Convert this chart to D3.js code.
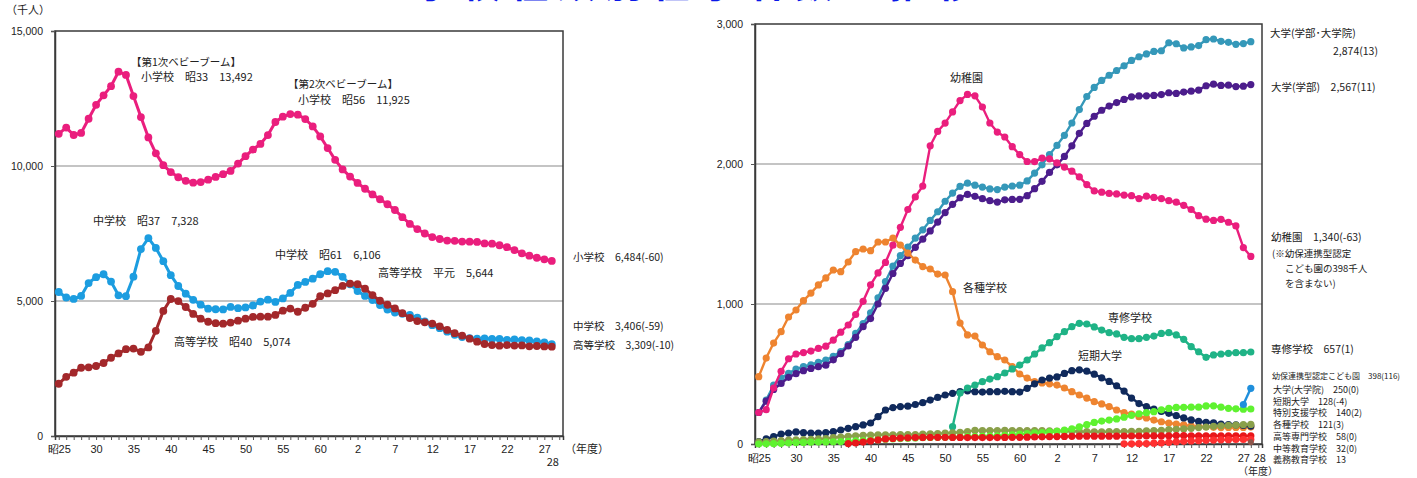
<!DOCTYPE html>
<html>
<head>
<meta charset="utf-8">
<script src="https://cdn.jsdelivr.net/npm/d3@7"></script>
<style>
  body { margin: 0; background: #fff; }
  svg { display: block; font-family: "Noto Sans CJK JP", "Noto Sans", sans-serif; }
  .note { fill: #222; }
  .tick text { fill: #222; }
</style>
</head>
<body>
<div class="chartBox"></div>
<script>
// years 昭25 (1950) .. 平28 (2016), plus one empty slot on the axis
var years = d3.range(1950, 2017);
var axisYears = d3.range(1950, 2018);
var tickYears = [1950, 1955, 1960, 1965, 1970, 1975, 1980, 1985, 1990, 1995, 2000, 2005, 2010, 2015];
var tickLabels = ['昭25', '30', '35', '40', '45', '50', '55', '60', '2', '7', '12', '17', '22', '27'];

// left chart (千人)
var elementary = [11191, 11423, 11148, 11225, 11750, 12267, 12616, 12956, 13492, 13375,
  12591, 11811, 11057, 10471, 10031, 9775, 9584, 9452, 9383, 9403,
  9493, 9596, 9696, 9816, 10089, 10365, 10610, 10819, 11147, 11630,
  11827, 11925, 11902, 11739, 11465, 11095, 10665, 10227, 9873, 9607,
  9373, 9157, 8947, 8769, 8583, 8370, 8106, 7855, 7664, 7500,
  7366, 7297, 7239, 7227, 7201, 7197, 7188, 7133, 7122, 7064,
  6993, 6887, 6765, 6677, 6601, 6544, 6484];
var juniorHigh = [5333, 5129, 5076, 5187, 5664, 5884, 5990, 5718, 5210, 5180,
  5900, 6925, 7328, 6964, 6476, 5957, 5556, 5271, 5044, 4865,
  4717, 4694, 4688, 4780, 4735, 4762, 4833, 4978, 5048, 4967,
  5094, 5300, 5594, 5707, 5828, 5990, 6106, 6081, 5896, 5619,
  5369, 5188, 5037, 4850, 4681, 4570, 4527, 4481, 4381, 4244,
  4104, 3992, 3863, 3748, 3664, 3627, 3602, 3615, 3592, 3600,
  3559, 3574, 3553, 3537, 3504, 3465, 3406];
var highSchool = [1935, 2193, 2344, 2528, 2545, 2592, 2703, 2898, 3057, 3216,
  3239, 3119, 3282, 3897, 4634, 5074, 4997, 4777, 4521, 4345,
  4232, 4178, 4162, 4201, 4272, 4345, 4410, 4420, 4420, 4485,
  4640, 4720, 4601, 4750, 4897, 5178, 5280, 5400, 5560, 5644,
  5623, 5455, 5218, 5010, 4862, 4725, 4548, 4371, 4258, 4212,
  4165, 4062, 3929, 3810, 3719, 3605, 3494, 3407, 3367, 3347,
  3369, 3349, 3356, 3320, 3334, 3319, 3309];

// right chart (千人)
var univTotal = [225, 314, 420, 470, 505, 535, 552, 566, 584, 600,
  626, 660, 710, 790, 860, 937, 1044, 1160, 1270, 1345,
  1407, 1470, 1530, 1597, 1659, 1734, 1792, 1840, 1863, 1849,
  1835, 1822, 1817, 1835, 1843, 1849, 1879, 1935, 1994, 2067,
  2133, 2205, 2293, 2389, 2482, 2547, 2597, 2634, 2668, 2701,
  2740, 2766, 2786, 2804, 2809, 2866, 2859, 2829, 2836, 2846,
  2888, 2893, 2876, 2869, 2855, 2860, 2874];
var univUndergrad = [225, 306, 390, 432, 476, 502, 524, 540, 552, 563,
  601, 645, 700, 762, 838, 896, 1000, 1112, 1218, 1290,
  1345, 1405, 1463, 1522, 1585, 1653, 1712, 1759, 1783, 1769,
  1752, 1738, 1728, 1744, 1747, 1748, 1774, 1824, 1876, 1940,
  1994, 2054, 2130, 2219, 2290, 2341, 2384, 2414, 2439, 2461,
  2479, 2486, 2487, 2490, 2496, 2509, 2504, 2514, 2520, 2528,
  2559, 2570, 2561, 2563, 2553, 2556, 2567];
var kinder = [225, 245, 400, 519, 609, 643, 653, 664, 683, 699,
  742, 799, 850, 925, 1019, 1137, 1222, 1297, 1420, 1548,
  1675, 1765, 1842, 2130, 2233, 2292, 2372, 2453, 2497, 2487,
  2407, 2293, 2228, 2193, 2124, 2067, 2018, 2017, 2042, 2037,
  2008, 1978, 1949, 1908, 1853, 1808, 1799, 1790, 1786, 1778,
  1774, 1753, 1770, 1761, 1753, 1738, 1727, 1705, 1675, 1631,
  1606, 1597, 1605, 1584, 1558, 1403, 1340];
var miscSchool = [481, 614, 721, 802, 907, 957, 1024, 1078, 1136, 1186,
  1243, 1231, 1300, 1374, 1393, 1381, 1443, 1443, 1471, 1421,
  1364, 1314, 1267, 1250, 1214, 1207, 1088, 864, 779, 771,
  707, 659, 624, 600, 552, 500, 471, 445, 436, 430,
  421, 400, 374, 350, 328, 302, 286, 267, 243, 224,
  214, 195, 186, 171, 159, 150, 143, 136, 129, 124,
  124, 119, 117, 118, 118, 118, 121];
var juniorCollege = [17, 36, 52, 71, 78, 86, 81, 78, 78, 81,
  88, 100, 112, 124, 136, 150, 195, 243, 260, 267,
  270, 282, 295, 314, 333, 350, 362, 374, 380, 374,
  371, 374, 374, 376, 374, 371, 398, 430, 457, 470,
  479, 504, 524, 530, 520, 499, 473, 447, 416, 378,
  328, 289, 267, 250, 233, 219, 202, 186, 172, 161,
  155, 151, 142, 138, 137, 133, 128];
var vocational = [null, null, null, null, null, null, null, null, null, null,
  null, null, null, null, null, null, null, null, null, null,
  null, null, null, null, null, null, 124, 364, 400, 421,
  445, 464, 481, 507, 536, 564, 600, 643, 686, 724,
  767, 802, 838, 862, 857, 836, 814, 795, 786, 762,
  752, 752, 762, 771, 790, 795, 779, 748, 695, 659,
  619, 636, 643, 648, 652, 652, 657];
var graduate = [0, 1, 2, 5, 7, 10, 11, 13, 14, 15,
  16, 17, 19, 22, 25, 28, 31, 34, 37, 39,
  41, 43, 45, 47, 48, 48, 48, 50, 52, 53,
  54, 56, 58, 61, 65, 70, 74, 79, 81, 86,
  90, 99, 109, 122, 138, 154, 164, 171, 179, 191,
  205, 216, 224, 231, 244, 254, 261, 262, 263, 263,
  272, 273, 263, 255, 251, 249, 250];
var specialNeeds = [15, 18, 21, 24, 27, 30, 32, 34, 36, 38,
  46, 50, 55, 59, 62, 64, 66, 66, 66, 67,
  67, 68, 70, 73, 75, 77, 80, 84, 88, 97,
  95, 96, 96, 97, 96, 96, 96, 96, 95, 94,
  93, 92, 91, 89, 88, 87, 87, 88, 89, 89,
  90, 91, 94, 96, 98, 102, 105, 108, 112, 117,
  121, 126, 130, 133, 135, 138, 140];
var techCollege = [null, null, null, null, null, null, null, null, null, null,
  null, null, 3, 7, 14, 22, 29, 36, 40, 43,
  44, 46, 47, 48, 48, 48, 47, 47, 46, 46,
  46, 46, 46, 47, 48, 48, 49, 50, 51, 52,
  53, 54, 55, 56, 56, 56, 56, 56, 56, 57,
  57, 57, 58, 58, 58, 59, 60, 60, 59, 59,
  59, 59, 58, 58, 58, 58, 58];
var secondary = [null, null, null, null, null, null, null, null, null, null,
  null, null, null, null, null, null, null, null, null, null,
  null, null, null, null, null, null, null, null, null, null,
  null, null, null, null, null, null, null, null, null, null,
  null, null, null, null, null, null, null, null, null, 1,
  1, 2, 3, 6, 8, 12, 16, 19, 22, 24,
  26, 28, 30, 31, 32, 32, 32];
var certifiedCenter = [null, null, null, null, null, null, null, null, null, null,
  null, null, null, null, null, null, null, null, null, null,
  null, null, null, null, null, null, null, null, null, null,
  null, null, null, null, null, null, null, null, null, null,
  null, null, null, null, null, null, null, null, null, null,
  null, null, null, null, null, null, null, null, null, null,
  null, null, null, null, null, 282, 398];
var compulsory = [null, null, null, null, null, null, null, null, null, null,
  null, null, null, null, null, null, null, null, null, null,
  null, null, null, null, null, null, null, null, null, null,
  null, null, null, null, null, null, null, null, null, null,
  null, null, null, null, null, null, null, null, null, null,
  null, null, null, null, null, null, null, null, null, null,
  null, null, null, null, null, null, 13];


var w = 1417, h = 478;

var svg = d3.select('div.chartBox')
  .append('svg')
  .attr('width', w)
  .attr('height', h);

// title, cut off by the top edge in the original
svg.append('text')
  .attr('x', 415)
  .attr('y', -3)
  .attr('font-size', 38)
  .attr('font-weight', 'bold')
  .attr('fill', '#0a18e8')
  .attr('textLength', 560)
  .attr('lengthAdjust', 'spacing')
  .text('学校種類別在学者数の推移');

function note(x, y, str, size, anchor) {
  svg.append('text')
    .attr('class', 'note')
    .attr('x', x)
    .attr('y', y)
    .attr('font-size', size || 11)
    .attr('text-anchor', anchor || 'start')
    .text(str);
}

function makePanel(left, right, top, bottom, yMax, yTicks, labelPad) {
  var x = d3.scalePoint().domain(axisYears).range([left, right]).padding(0.5);
  var y = d3.scaleLinear().domain([0, yMax]).range([bottom, top]);
  var g = svg.append('g');

  // grid lines
  g.selectAll('line.grid')
    .data(yTicks.slice(1, -1))
    .enter()
    .append('line')
    .attr('x1', left).attr('x2', right)
    .attr('y1', function(d) { return y(d); })
    .attr('y2', function(d) { return y(d); })
    .attr('stroke', '#8a8a8a')
    .attr('stroke-width', 1.2);

  // frame
  g.append('rect')
    .attr('x', left).attr('y', top)
    .attr('width', right - left).attr('height', bottom - top)
    .attr('fill', 'none')
    .attr('stroke', '#3a3a3a')
    .attr('stroke-width', 1.5);

  var yAxis = g.append('g')
    .attr('transform', 'translate(' + left + ',0)')
    .call(d3.axisLeft(y).tickValues(yTicks).tickSize(4).tickPadding(8).tickFormat(d3.format(',')));
  yAxis.selectAll('text').attr('font-size', 10.5);

  var xAxis = g.append('g')
    .attr('transform', 'translate(0,' + bottom + ')')
    .call(d3.axisBottom(x).tickValues(axisYears).tickSize(4).tickPadding(labelPad)
      .tickFormat(function(d) {
        var k = tickYears.indexOf(d);
        return k < 0 ? '' : tickLabels[k];
      }));
  xAxis.selectAll('text').attr('font-size', 11);

  [yAxis, xAxis].forEach(function(a) {
    a.select('.domain').attr('stroke', '#3a3a3a').attr('stroke-width', 1.5);
    a.selectAll('.tick line').attr('stroke', '#555');
  });

  return { x: x, y: y, g: g };
}

function drawSeries(p, values, color, r, sw) {
  var pts = years.map(function(yr, i) { return { yr: yr, v: values[i] }; })
    .filter(function(d) { return d.v != null; });

  var line = d3.line()
    .x(function(d) { return p.x(d.yr); })
    .y(function(d) { return p.y(d.v); });

  p.g.append('path')
    .datum(pts)
    .attr('fill', 'none')
    .attr('stroke', color)
    .attr('stroke-width', sw)
    .attr('d', line);

  p.g.selectAll(null)
    .data(pts)
    .enter()
    .append('circle')
    .attr('cx', function(d) { return p.x(d.yr); })
    .attr('cy', function(d) { return p.y(d.v); })
    .attr('r', r)
    .attr('fill', color);
}

// ---- left chart
var L = makePanel(55, 563, 31, 436, 15000, [0, 5000, 10000, 15000], 5);

drawSeries(L, elementary, '#ea1e7d', 3.9, 3);
drawSeries(L, juniorHigh, '#1c9de0', 3.9, 3);
drawSeries(L, highSchool, '#a3282b', 3.9, 3);

note(6, 14, '（千人）', 11);
note(L.x(2016) + 1, 466, '28', 11, 'middle');
note(565, 453, '（年度）', 11);

note(131, 66, '【第1次ベビーブーム】', 10.5);
note(141, 81, '小学校　昭33　13,492', 11);
note(288, 88, '【第2次ベビーブーム】', 10.5);
note(298, 104, '小学校　昭56　11,925', 11);
note(93, 225, '中学校　昭37　7,328', 11);
note(275, 259, '中学校　昭61　6,106', 11);
note(378, 277, '高等学校　平元　5,644', 11);
note(174, 346, '高等学校　昭40　5,074', 11);

note(573, 261, '小学校　6,484(-60)', 10.5);
note(573, 330, '中学校　3,406(-59)', 10.5);
note(573, 349, '高等学校　3,309(-10)', 10.5);

// ---- right chart
var R = makePanel(755, 1262, 24, 444, 3000, [0, 1000, 2000, 3000], 6);

drawSeries(R, univTotal, '#3598b9', 3.6, 2.4);
drawSeries(R, univUndergrad, '#4c1d8c', 3.6, 2.4);
drawSeries(R, kinder, '#ea1e7d', 3.6, 2.4);
drawSeries(R, miscSchool, '#ee8430', 3.6, 2.4);
drawSeries(R, juniorCollege, '#102a5c', 3.6, 2.4);
drawSeries(R, vocational, '#1fb386', 3.6, 2.4);
drawSeries(R, specialNeeds, '#8aa04a', 3.6, 2.4);
drawSeries(R, graduate, '#5ff230', 3.6, 2.4);
drawSeries(R, techCollege, '#e8161a', 3.6, 2.4);
drawSeries(R, secondary, '#ff3030', 3.6, 2.4);
drawSeries(R, certifiedCenter, '#1f8fdc', 3.6, 2.4);
drawSeries(R, compulsory, '#8c564b', 3.0, 2.4);

note(R.x(2016) + 9, 462, '28', 11, 'middle');
note(1238, 475, '（年度）', 10);

note(950, 82, '幼稚園', 11);
note(963, 292, '各種学校', 11);
note(1108, 322, '専修学校', 11);
note(1078, 360, '短期大学', 11);

note(1270, 37, '大学(学部･大学院)', 10.5);
note(1378, 55, '2,874(13)', 10.5, 'end');
note(1271, 91, '大学(学部)　2,567(11)', 10.5);
note(1271, 241, '幼稚園　1,340(-63)', 10.5);
note(1272, 257, '(※幼保連携型認定', 9.5);
note(1285, 272, 'こども園の398千人', 9.5);
note(1285, 287, 'を含まない)', 9.5);
note(1271, 353, '専修学校　657(1)', 10.5);

note(1272, 379, '幼保連携型認定こども園　398(116)', 8);
note(1273, 393, '大学(大学院)　250(0)', 9);
note(1273, 405, '短期大学　128(-4)', 9);
note(1273, 416, '特別支援学校　140(2)', 9);
note(1273, 428, '各種学校　121(3)', 9);
note(1273, 440, '高等専門学校　58(0)', 9);
note(1273, 452, '中等教育学校　32(0)', 9);
note(1273, 463, '義務教育学校　13', 9);
</script>
</body>
</html>
